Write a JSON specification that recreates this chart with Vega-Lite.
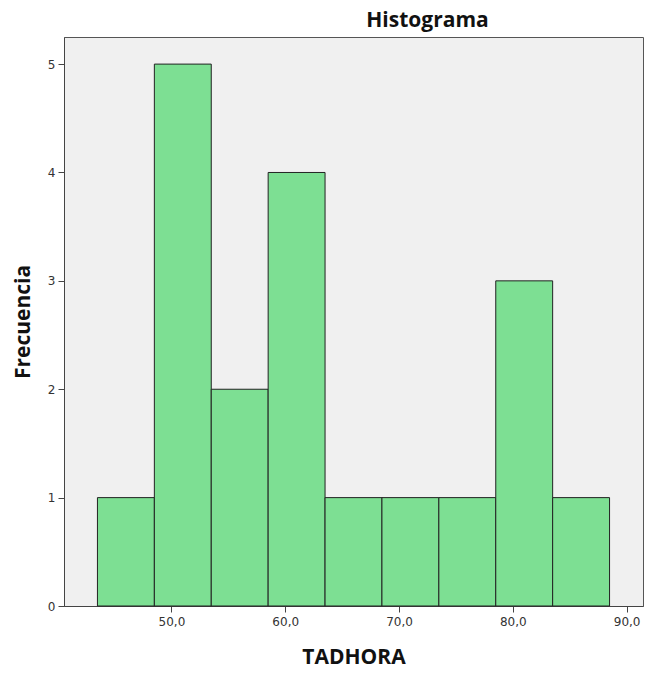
{
  "$schema": "https://vega.github.io/schema/vega-lite/v6.json",
  "width": 579,
  "height": 569,
  "autosize": {"type": "none"},
  "padding": {"left": 64, "top": 37, "right": 8, "bottom": 67},
  "background": "white",
  "title": {
    "text": "Histograma",
    "font": "Open Sans",
    "fontSize": 21,
    "fontWeight": "bold",
    "color": "#111",
    "anchor": "middle",
    "dx": 74,
    "offset": 6
  },
  "config": {
    "view": {"fill": "#f0f0f0", "stroke": "#555", "strokeWidth": 1},
    "axis": {
      "grid": false,
      "domainColor": "#444",
      "tickColor": "#444",
      "tickSize": 6,
      "labelFont": "DejaVu Sans",
      "labelFontSize": 12,
      "labelColor": "#333",
      "titleFont": "Open Sans",
      "titleFontSize": 21,
      "titleFontWeight": "bold",
      "titleColor": "#111"
    }
  },
  "data": {
    "values": [
      {"start": 43.5, "end": 48.5, "count": 1},
      {"start": 48.5, "end": 53.5, "count": 5},
      {"start": 53.5, "end": 58.5, "count": 2},
      {"start": 58.5, "end": 63.5, "count": 4},
      {"start": 63.5, "end": 68.5, "count": 1},
      {"start": 68.5, "end": 73.5, "count": 1},
      {"start": 73.5, "end": 78.5, "count": 1},
      {"start": 78.5, "end": 83.5, "count": 3},
      {"start": 83.5, "end": 88.5, "count": 1}
    ]
  },
  "mark": {"type": "bar", "fill": "#7ddf93", "stroke": "#222", "strokeWidth": 1, "orient": "vertical"},
  "encoding": {
    "x": {
      "field": "start",
      "type": "quantitative",
      "scale": {"domain": [41.0, 91.0], "nice": false, "zero": false},
      "axis": {
        "title": "TADHORA",
        "values": [50, 60, 70, 80, 90],
        "labelExpr": "replace(format(datum.value, '.1f'), '.', ',')",
        "labelPadding": 4,
        "titlePadding": 19
      }
    },
    "x2": {"field": "end"},
    "y": {
      "field": "count",
      "type": "quantitative",
      "scale": {"domain": [0, 5.25], "nice": false},
      "axis": {
        "title": "Frecuencia",
        "values": [0, 1, 2, 3, 4, 5],
        "format": "d",
        "labelPadding": 3,
        "titlePadding": 14
      }
    },
    "y2": {"datum": 0}
  }
}
